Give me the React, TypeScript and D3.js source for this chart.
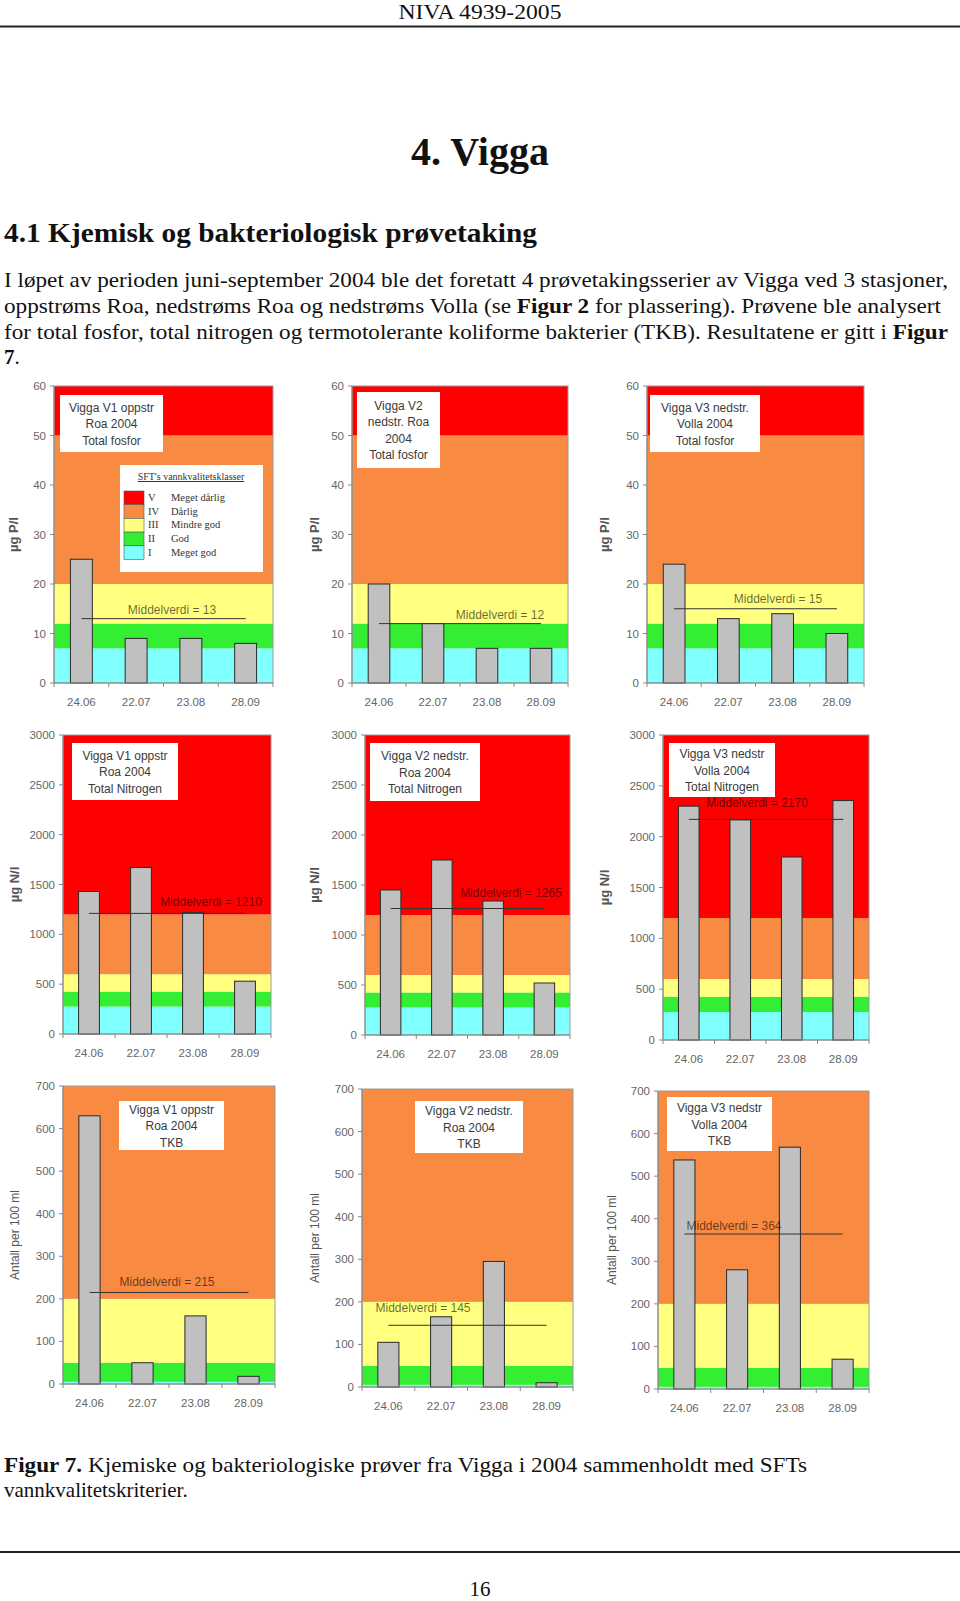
import React from "react";
import * as d3 from "d3";

// ---------- data ----------
const dates = ["24.06", "22.07", "23.08", "28.09"];

const fosforV1 = [25, 9, 9, 8];
const fosforV2 = [20, 12, 7, 7];
const fosforV3 = [24, 13, 14, 10];

const nitrogenV1 = [1430, 1670, 1220, 530];
const nitrogenV2 = [1450, 1750, 1340, 520];
const nitrogenV3 = [2300, 2165, 1800, 2355];

const tkbV1 = [630, 50, 160, 18];
const tkbV2 = [105, 165, 295, 10];
const tkbV3 = [538, 280, 568, 70];

const meanFosfor = [13, 12, 15];
const meanNitrogen = [1210, 1265, 2170];
const meanTkb = [215, 145, 364];

const fosforTicks = [0, 10, 20, 30, 40, 50, 60];
const nitrogenTicks = [0, 500, 1000, 1500, 2000, 2500, 3000];
const tkbTicks = [0, 100, 200, 300, 400, 500, 600, 700];

// class boundaries I|II, II|III, III|IV, IV|V
const fosforLimits = [7, 12, 20, 50];
const nitrogenLimits = [275, 425, 600, 1200];
const tkbLimits = [5, 50, 200, 1000];

const classColors = ["#80FFFF", "#33EE33", "#FFFF80", "#F98A42", "#FF0000"];
const legendNumerals = ["V", "IV", "III", "II", "I"];
const legendNames = ["Meget dårlig", "Dårlig", "Mindre god", "God", "Meget god"];

const titleP1 = ["Vigga V1 oppstr", "Roa 2004", "Total fosfor"];
const titleP2 = ["Vigga V2", "nedstr. Roa", "2004", "Total fosfor"];
const titleP3 = ["Vigga V3 nedstr.", "Volla 2004", "Total fosfor"];
const titleN1 = ["Vigga V1 oppstr", "Roa 2004", "Total Nitrogen"];
const titleN2 = ["Vigga V2 nedstr.", "Roa 2004", "Total Nitrogen"];
const titleN3 = ["Vigga V3 nedstr", "Volla 2004", "Total Nitrogen"];
const titleT1 = ["Vigga V1 oppstr", "Roa 2004", "TKB"];
const titleT2 = ["Vigga V2 nedstr.", "Roa 2004", "TKB"];
const titleT3 = ["Vigga V3 nedstr", "Volla 2004", "TKB"];

// ---------- layout ----------
const SANS = "'Liberation Sans', Arial, sans-serif";
const SERIF = "'Liberation Serif', 'Times New Roman', serif";

type Box = { x: number; y: number; w: number; h: number };

const panels = [
  { plot: { x: 54, y: 386, w: 219, h: 297 }, values: fosforV1, mean: meanFosfor[0], ticks: fosforTicks, limits: fosforLimits, yLabel: "µg P/l", bold: true, yLabelX: 14, title: titleP1, tbox: { x: 60, y: 395, w: 103, h: 57 }, lab: { x: 172, dy: -5 }, legend: true },
  { plot: { x: 352, y: 386, w: 216, h: 297 }, values: fosforV2, mean: meanFosfor[1], ticks: fosforTicks, limits: fosforLimits, yLabel: "µg P/l", bold: true, yLabelX: 315, title: titleP2, tbox: { x: 357, y: 392, w: 83, h: 76 }, lab: { x: 500, dy: -5 } },
  { plot: { x: 647, y: 386, w: 217, h: 297 }, values: fosforV3, mean: meanFosfor[2], ticks: fosforTicks, limits: fosforLimits, yLabel: "µg P/l", bold: true, yLabelX: 605, title: titleP3, tbox: { x: 650, y: 395, w: 110, h: 57 }, lab: { x: 778, dy: -6 } },
  { plot: { x: 63, y: 735, w: 208, h: 299 }, values: nitrogenV1, mean: meanNitrogen[0], ticks: nitrogenTicks, limits: nitrogenLimits, yLabel: "µg N/l", bold: true, yLabelX: 15, title: titleN1, tbox: { x: 72, y: 743, w: 106, h: 57 }, lab: { x: 211, dy: -7 } },
  { plot: { x: 365, y: 735, w: 205, h: 300 }, values: nitrogenV2, mean: meanNitrogen[1], ticks: nitrogenTicks, limits: nitrogenLimits, yLabel: "µg N/l", bold: true, yLabelX: 315, title: titleN2, tbox: { x: 370, y: 743, w: 110, h: 58 }, lab: { x: 511, dy: -12 } },
  { plot: { x: 663, y: 735, w: 206, h: 305 }, values: nitrogenV3, mean: meanNitrogen[2], ticks: nitrogenTicks, limits: nitrogenLimits, yLabel: "µg N/l", bold: true, yLabelX: 605, title: titleN3, tbox: { x: 669, y: 743, w: 106, h: 54 }, lab: { x: 757, dy: -12 } },
  { plot: { x: 63, y: 1086, w: 212, h: 298 }, values: tkbV1, mean: meanTkb[0], ticks: tkbTicks, limits: tkbLimits, yLabel: "Antall per 100 ml", bold: false, yLabelX: 15, title: titleT1, tbox: { x: 119, y: 1101, w: 105, h: 49 }, lab: { x: 167, dy: -6 } },
  { plot: { x: 362, y: 1089, w: 211, h: 298 }, values: tkbV2, mean: meanTkb[1], ticks: tkbTicks, limits: tkbLimits, yLabel: "Antall per 100 ml", bold: false, yLabelX: 315, title: titleT2, tbox: { x: 415, y: 1101, w: 108, h: 52 }, lab: { x: 423, dy: -13 } },
  { plot: { x: 658, y: 1091, w: 211, h: 298 }, values: tkbV3, mean: meanTkb[2], ticks: tkbTicks, limits: tkbLimits, yLabel: "Antall per 100 ml", bold: false, yLabelX: 612, title: titleT3, tbox: { x: 667, y: 1097, w: 105, h: 54 }, lab: { x: 734, dy: -4 } },
];

function Legend({ x, y }: { x: number; y: number }) {
  const rowH = 13.7;
  return (
    <g>
      <rect x={x} y={y} width={143} height={107} fill="#fff" />
      <text x={x + 71} y={y + 15} textAnchor="middle" fontFamily={SERIF} fontSize={10} fill="#333" textDecoration="underline">
        SFT's vannkvalitetsklasser
      </text>
      {legendNames.map((name, i) => {
        const ry = y + 26 + i * rowH;
        return (
          <g key={name}>
            <rect x={x + 4} y={ry} width={20} height={rowH} fill={classColors[4 - i]} stroke="#555" strokeWidth={0.6} />
            <text x={x + 28} y={ry + 10} fontFamily={SERIF} fontSize={10.5} fill="#333">{legendNumerals[i]}</text>
            <text x={x + 51} y={ry + 10} fontFamily={SERIF} fontSize={10.5} fill="#333">{name}</text>
          </g>
        );
      })}
    </g>
  );
}

function Panel(p: any) {
  const plot: Box = p.plot;
  const maxV = p.ticks[p.ticks.length - 1];
  const y = d3.scaleLinear().domain([0, maxV]).range([plot.y + plot.h, plot.y]);
  const x = d3.scaleBand<string>().domain(dates).range([plot.x, plot.x + plot.w]).paddingInner(0.6).paddingOuter(0.3);
  const step = x.step();
  const bounds = [0, ...p.limits, Infinity];
  const bands = classColors.map((c, i) => {
    const lo = Math.min(bounds[i], maxV);
    const hi = Math.min(bounds[i + 1], maxV);
    return { c, y0: y(hi), y1: y(lo) };
  }).filter((b) => b.y1 > b.y0);
  const bw = x.bandwidth();
  const firstC = (x(dates[0]) as number) + bw / 2;
  const lastC = (x(dates[dates.length - 1]) as number) + bw / 2;
  const my = y(p.mean);
  const cy = plot.y + plot.h / 2;
  return (
    <g>
      {bands.map((b, i) => (
        <rect key={i} x={plot.x} y={b.y0} width={plot.w} height={b.y1 - b.y0} fill={b.c} />
      ))}
      <rect x={plot.x} y={plot.y} width={plot.w} height={plot.h} fill="none" stroke="#9a9a9a" strokeWidth={1} />
      {p.legend && <Legend x={120} y={465} />}
      {/* title box */}
      <rect x={p.tbox.x} y={p.tbox.y} width={p.tbox.w} height={p.tbox.h} fill="#fff" />
      {p.title.map((t: string, i: number) => (
        <text key={i} x={p.tbox.x + p.tbox.w / 2} y={p.tbox.y + p.tbox.h / 2 + (i - (p.title.length - 1) / 2) * 16.5 + 4.5}
          textAnchor="middle" fontFamily={SANS} fontSize={12} fill="#3a3a3a">{t}</text>
      ))}
      {/* bars */}
      {p.values.map((v: number, i: number) => (
        <rect key={i} x={x(dates[i])} y={y(v)} width={bw} height={y(0) - y(v)} fill="#C0C0C0" stroke="#2a2a2a" strokeWidth={1} />
      ))}
      {/* mean line */}
      <line x1={firstC} x2={lastC} y1={my} y2={my} stroke="#333" strokeWidth={1} />
      <text x={p.lab.x} y={my + p.lab.dy} textAnchor="middle" fontFamily={SANS} fontSize={12} fill="#000" fillOpacity={0.6}>
        {`Middelverdi = ${p.mean}`}
      </text>
      {/* y axis */}
      <line x1={plot.x} x2={plot.x} y1={plot.y} y2={plot.y + plot.h} stroke="#888" />
      {p.ticks.map((t: number) => (
        <g key={t}>
          <line x1={plot.x - 4} x2={plot.x} y1={y(t)} y2={y(t)} stroke="#888" />
          <text x={plot.x - 8} y={y(t) + 4} textAnchor="end" fontFamily={SANS} fontSize={11.5} fill="#666">{t}</text>
        </g>
      ))}
      {/* x axis */}
      <line x1={plot.x} x2={plot.x + plot.w} y1={plot.y + plot.h} y2={plot.y + plot.h} stroke="#888" />
      {d3.range(dates.length + 1).map((i) => (
        <line key={i} x1={plot.x + i * step} x2={plot.x + i * step} y1={plot.y + plot.h} y2={plot.y + plot.h + 4} stroke="#888" />
      ))}
      {dates.map((d) => (
        <text key={d} x={(x(d) as number) + bw / 2} y={plot.y + plot.h + 23} textAnchor="middle" fontFamily={SANS} fontSize={11.5} fill="#666">{d}</text>
      ))}
      {/* y label */}
      <text transform={`translate(${p.yLabelX + 4},${cy}) rotate(-90)`} textAnchor="middle" fontFamily={SANS}
        fontSize={p.bold ? 13 : 12} fontWeight={p.bold ? "bold" : "normal"} fill="#555">{p.yLabel}</text>
    </g>
  );
}

export default function App() {
  return (
    <svg width={960} height={1601} viewBox="0 0 960 1601"
      style={{ position: "absolute", left: 0, top: 0, display: "block", background: "#fff" }}>
      <rect x={0} y={0} width={960} height={1601} fill="#fff" />
      {/* header */}
      <text x={480} y={19} textAnchor="middle" fontFamily={SERIF} fontSize={21} fill="#111" textLength={163} lengthAdjust="spacingAndGlyphs">NIVA 4939-2005</text>
      <line x1={0} x2={960} y1={26.5} y2={26.5} stroke="#222" strokeWidth={2} />
      <text x={480} y={165} textAnchor="middle" fontFamily={SERIF} fontSize={40} fontWeight="bold" fill="#111">4. Vigga</text>
      <text x={4} y={242} fontFamily={SERIF} fontSize={27} fontWeight="bold" fill="#111" textLength={533} lengthAdjust="spacingAndGlyphs">4.1 Kjemisk og bakteriologisk prøvetaking</text>
      <text x={4} y={287} fontFamily={SERIF} fontSize={21} fill="#111" textLength={944} lengthAdjust="spacingAndGlyphs">I løpet av perioden juni-september 2004 ble det foretatt 4 prøvetakingsserier av Vigga ved 3 stasjoner,</text>
      <text x={4} y={313} fontFamily={SERIF} fontSize={21} fill="#111" textLength={937} lengthAdjust="spacingAndGlyphs">oppstrøms Roa, nedstrøms Roa og nedstrøms Volla (se <tspan fontWeight="bold">Figur 2</tspan> for plassering). Prøvene ble analysert</text>
      <text x={4} y={339} fontFamily={SERIF} fontSize={21} fill="#111" textLength={944} lengthAdjust="spacingAndGlyphs">for total fosfor, total nitrogen og termotolerante koliforme bakterier (TKB). Resultatene er gitt i <tspan fontWeight="bold">Figur</tspan></text>
      <text x={4} y={364} fontFamily={SERIF} fontSize={21} fill="#111"><tspan fontWeight="bold">7</tspan>.</text>

      {panels.map((p, i) => (
        <Panel key={i} {...p} />
      ))}

      {/* caption */}
      <text x={4} y={1472} fontFamily={SERIF} fontSize={21} fill="#111" textLength={803} lengthAdjust="spacingAndGlyphs"><tspan fontWeight="bold">Figur 7.</tspan> Kjemiske og bakteriologiske prøver fra Vigga i 2004 sammenholdt med SFTs</text>
      <text x={4} y={1497} fontFamily={SERIF} fontSize={21} fill="#111">vannkvalitetskriterier.</text>
      <line x1={0} x2={960} y1={1552} y2={1552} stroke="#222" strokeWidth={2} />
      <text x={480} y={1596} textAnchor="middle" fontFamily={SERIF} fontSize={21} fill="#111">16</text>
    </svg>
  );
}
